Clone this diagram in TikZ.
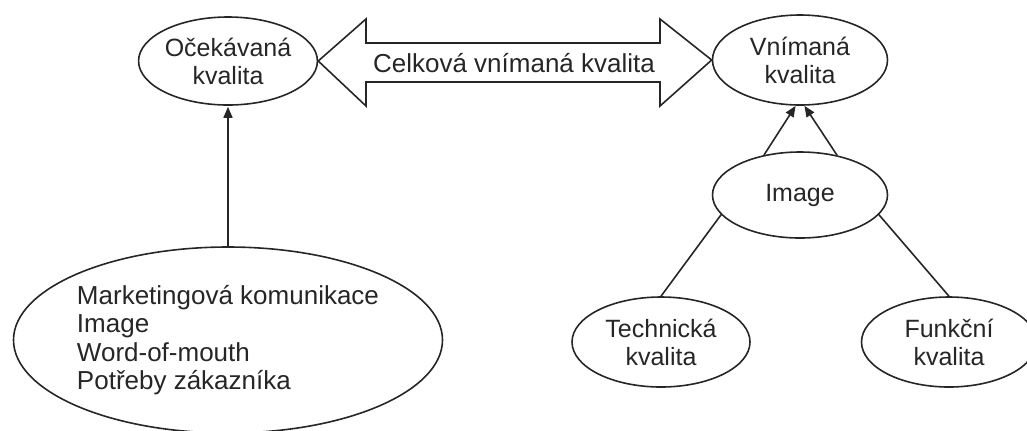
\documentclass[tikz,border=0pt]{standalone}
\usepackage{fontspec}
\setmainfont{Liberation Sans}
\usetikzlibrary{shapes.geometric,arrows.meta}
\definecolor{ink}{HTML}{262626}
\begin{document}
\begin{tikzpicture}[x=0.5pt,y=-0.5pt,
  ell/.style={draw=ink, line width=0.8pt, ellipse, inner sep=0pt, align=center, text=ink,
    minimum width=87.5pt, minimum height=44pt,
    font=\fontsize{12.5pt}{14pt}\selectfont},
  conn/.style={draw=ink, line width=0.8pt},
  arr/.style={conn, -{Triangle[width=4.5pt,length=5.5pt]}}]
\useasboundingbox (0,0) rectangle (1027,430);
% nodes
\node[ell] (oc) at (228,61) {Očekávaná\\kvalita};
\node[ell, minimum height=45pt] (vn) at (800,60) {Vnímaná\\kvalita};
\node[ell, minimum height=43pt] (im) at (800,195) {Image};
\node[ell, minimum width=89pt, minimum height=45pt] (te) at (661,342) {Technická\\kvalita};
\node[ell, minimum height=45pt] (fu) at (949,342) {Funkční\\kvalita};
\node[ell, align=left, minimum width=214.5pt, minimum height=93pt,
  font=\fontsize{13pt}{14.25pt}\selectfont] (big) at (228,340)
  {Marketingová komunikace\\Image\\Word-of-mouth\\Potřeby zákazníka};
% double arrow
\draw[conn, line join=miter] (oc.east) -- (366,19) -- (366,43) -- (660,43) -- (660,19) -- (vn.west)
  -- (660,106) -- (660,82) -- (366,82) -- (366,106) -- cycle;
\node[text=ink, font=\fontsize{13pt}{14pt}\selectfont, inner sep=0pt] (ck) at (514,63) {Celková vnímaná kvalita};
% connectors
\draw[arr] (big.north) -- ([yshift=-0.5pt]big.north |- oc.south);
\draw[arr] (im.132) -- ([xshift=-2.2pt]vn.south);
\draw[arr] (im.47) -- ([xshift=2.2pt]vn.south);
\draw[conn] (te.north) -- (im.194);
\draw[conn] (fu.north) -- (im.346);
\end{tikzpicture}
\end{document}
